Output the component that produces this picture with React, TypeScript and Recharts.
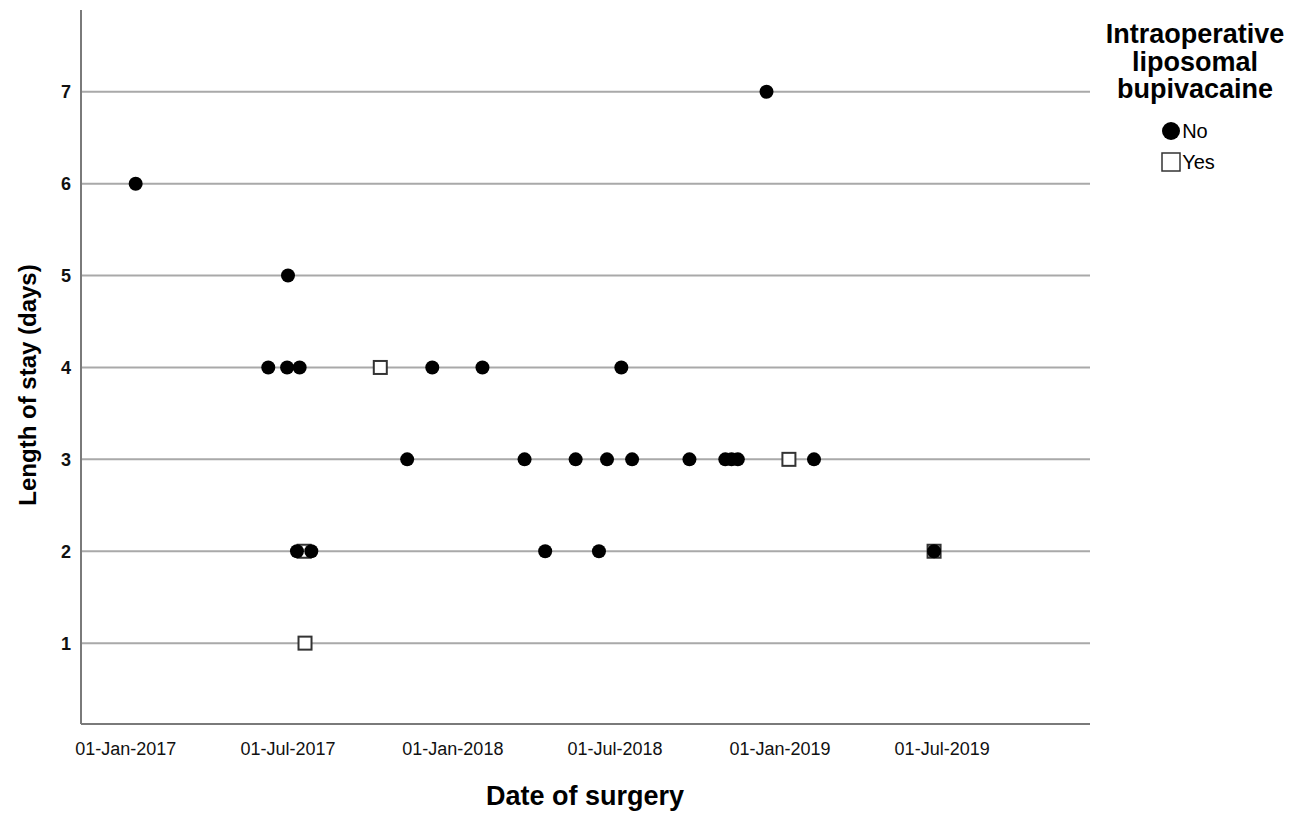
import { ReferenceLine, Scatter, ScatterChart, XAxis, YAxis } from 'recharts';

const FONT = '"Liberation Sans", Arial, sans-serif';

// surgery dates + length of stay
const noDates = [
  '2017-01-12', '2017-07-01', '2017-06-09', '2017-06-30', '2017-07-14', '2017-12-09',
  '2018-02-03', '2018-07-08', '2017-11-11', '2018-03-22', '2018-05-18', '2018-06-22',
  '2018-07-20', '2018-09-22', '2018-11-01', '2018-11-08', '2018-11-15', '2019-02-08',
  '2017-07-11', '2017-07-27', '2018-04-14', '2018-06-13', '2019-06-22', '2018-12-17',
];
const noStays = [6, 5, 4, 4, 4, 4, 4, 4, 3, 3, 3, 3, 3, 3, 3, 3, 3, 3, 2, 2, 2, 2, 2, 7];

const yesDates = ['2017-10-12', '2019-01-11', '2017-07-19', '2019-06-22', '2017-07-20'];
const yesStays = [4, 3, 2, 2, 1];

const tickDates = ['2017-01-01', '2017-07-01', '2018-01-01', '2018-07-01', '2019-01-01', '2019-07-01'];
const tickLabels = ['01-Jan-2017', '01-Jul-2017', '01-Jan-2018', '01-Jul-2018', '01-Jan-2019', '01-Jul-2019'];
const stayTicks = [1, 2, 3, 4, 5, 6, 7];

const toDay = (s: string) => {
  const [y, m, d] = s.split('-').map(Number);
  return Date.UTC(y, m - 1, d) / 86400000;
};

const noData = noDates.map((d, i) => ({ date: toDay(d), stay: noStays[i] }));
const yesData = yesDates.map((d, i) => ({ date: toDay(d), stay: yesStays[i] }));
const xTicks = tickDates.map(toDay);
const start = toDay('2017-01-01');

const Dot = (props: any) => <circle cx={props.cx} cy={props.cy} r={7} fill="#000" />;
const Box = (props: any) => (
  <rect x={props.cx - 6.5} y={props.cy - 6.5} width={13} height={13} fill="#fff" stroke="#333" strokeWidth={2} />
);

function LegendBox() {
  return (
    <div
      style={{
        position: 'absolute',
        left: 1095,
        top: 21,
        width: 200,
        fontFamily: FONT,
        color: '#000',
        textAlign: 'center',
      }}
    >
      <div style={{ fontWeight: 700, fontSize: 27, lineHeight: '27.5px' }}>
        Intraoperative
        <br />
        liposomal
        <br />
        bupivacaine
      </div>
      <div style={{ display: 'inline-block', textAlign: 'left', marginTop: 12, marginLeft: -14 }}>
        <div style={{ display: 'flex', alignItems: 'center', height: 31 }}>
          <svg width={20} height={20}>
            <circle cx={10} cy={10} r={9} fill="#000" />
          </svg>
          <span style={{ fontSize: 20, marginLeft: 1 }}>No</span>
        </div>
        <div style={{ display: 'flex', alignItems: 'center', height: 31 }}>
          <svg width={20} height={20}>
            <rect x={1} y={1} width={18} height={18} fill="#fff" stroke="#333" strokeWidth={1.5} />
          </svg>
          <span style={{ fontSize: 20, marginLeft: 1 }}>Yes</span>
        </div>
      </div>
    </div>
  );
}

export default function App() {
  return (
    <div style={{ position: 'absolute', left: 0, top: 0, width: 1300, height: 815, background: '#fff', fontFamily: FONT }}>
      <ScatterChart width={1300} height={815} margin={{ top: 10, right: 210, left: 41, bottom: 51 }}>
        <XAxis
          type="number"
          dataKey="date"
          domain={[start - 50, start + 1076]}
          allowDataOverflow
          ticks={xTicks}
          tickFormatter={(v: number) => tickLabels[xTicks.indexOf(v)] ?? ''}
          tickLine={false}
          axisLine={{ stroke: '#7a7a7a', strokeWidth: 2 }}
          tick={{ fill: '#111', fontSize: 18, fontFamily: FONT }}
          tickMargin={12}
          height={40}
        />
        <YAxis
          type="number"
          dataKey="stay"
          domain={[0.12, 7.89]}
          allowDataOverflow
          ticks={stayTicks}
          tickLine={false}
          axisLine={{ stroke: '#7a7a7a', strokeWidth: 2 }}
          tick={{ fill: '#111', fontSize: 18, fontWeight: 700, fontFamily: FONT }}
          tickMargin={4}
          width={40}
        />
        {stayTicks.map((t) => (
          <ReferenceLine key={t} y={t} stroke="#a9a9a9" strokeWidth={2} />
        ))}
        <Scatter name="Yes" data={yesData} fill="#fff" shape={Box} isAnimationActive={false} />
        <Scatter name="No" data={noData} fill="#000" shape={Dot} isAnimationActive={false} />
      </ScatterChart>
      <LegendBox />
      <div
        style={{
          position: 'absolute',
          left: 0,
          width: 1170,
          top: 781,
          textAlign: 'center',
          fontWeight: 700,
          fontSize: 27,
          color: '#000',
        }}
      >
        Date of surgery
      </div>
      <div
        style={{
          position: 'absolute',
          left: 28,
          top: 385,
          transform: 'translate(-50%, -50%) rotate(-90deg)',
          whiteSpace: 'nowrap',
          fontWeight: 700,
          fontSize: 24,
          color: '#000',
        }}
      >
        Length of stay (days)
      </div>
    </div>
  );
}
